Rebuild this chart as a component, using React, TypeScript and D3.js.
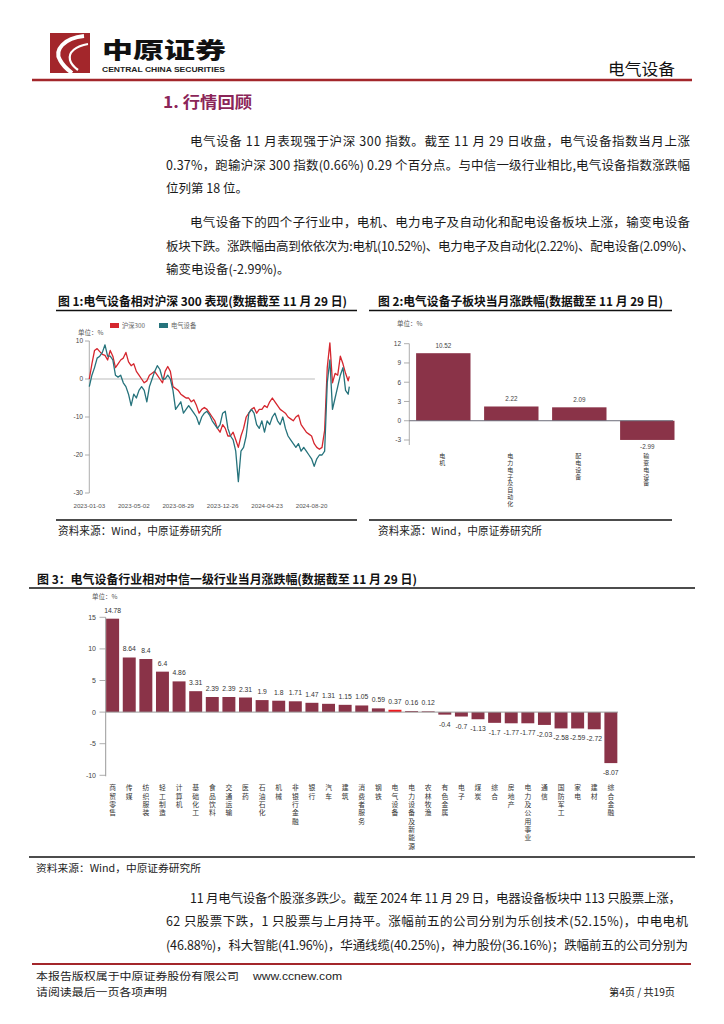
import React, { useEffect, useRef } from 'react';
import * as d3 from 'd3';

const CJK = "'Noto Sans CJK SC', 'Noto Sans', sans-serif";
const LAT = "'Liberation Sans', Arial, sans-serif";

// 图1：电气设备 vs 沪深300（周度采样，2023-01-03 起，末点 2024-11-29）
const perfStart = '2023-01-03';
const perfEnd = '2024-11-29';
const perfAxisEnd = '2024-08-29';
const hs300 = [
  0, 4, 7.5, 8, 7.2, 6.5, 6.2, 5, 7.5, 6,
  3, 4, 5, 5.5, 7, 4.5, 3.5, 4, 2, 1,
  0, -1, -0.5, 1, 1.5, 2, 1, 0, -1, 2,
  3.3, 2, -2, -2.5, -3, -4, -4.5, -5, -5, -6,
  -5.5, -7, -9, -8, -7.5, -8, -9, -10, -11, -13,
  -14, -12, -13, -15, -15, -14, -16, -18, -15, -13,
  -10, -9, -8, -7.5, -9, -8, -8, -7, -7.5, -6,
  -5, -6, -7, -8, -8.5, -9, -10, -10.5, -11, -10,
  -9.5, -12, -13, -14, -14.5, -15, -17, -18, -18.5, -18,
  -13.5, 3, 9.5, -1, 1.5, 1, 6, 4, 1.5, -0.5,
  0.7,
];
const elecEquip = [
  -2, 1, 3, 5.5, 6, 7, 9, 6, 6, 5,
  1, 0.5, 1, -1, -2, -4, -7, -4, -5, -3,
  -2, -3, -6, -2, 0, 2, 3.5, 2.5, 0, 0,
  1, 0, -3, -8, -7, -6, -9, -8, -7, -8,
  -9, -10, -12, -10, -9, -8.5, -9.5, -11, -12, -13,
  -12, -9, -8.5, -13, -15, -16, -19, -27, -19, -18,
  -15, -9, -8, -9, -12, -13, -11, -14, -11, -12,
  -10, -9, -11, -12, -10, -13, -15, -16, -17, -18,
  -17, -19, -18, -19, -20, -21, -23, -21, -20, -20,
  -19, -1, 5, -8, -5, -2, 1, 3, -3, -4,
  -2,
];
const perfTickDates = ['2023-01-03', '2023-05-02', '2023-08-29', '2023-12-26', '2024-04-23', '2024-08-20'];
const perfYTicks = [10, 0, -10, -20, -30];
const perfLegend = ['沪深300', '电气设备'];
const perfColors = ['#D5262E', '#26737C'];

// 图2：子板块
const subSectors = ['电机', '电力电子及自动化', '配电设备', '输变电设备'];
const subReturns = [10.52, 2.22, 2.09, -2.99];
const subYTicks = [12, 9, 6, 3, 0, -3];

// 图3：中信一级行业
const industries = [
  '商贸零售', '传媒', '纺织服装', '轻工制造', '计算机', '基础化工', '食品饮料', '交通运输', '医药',
  '石油石化', '机械', '非银行金融', '银行', '汽车', '建筑', '消费者服务', '钢铁', '电气设备',
  '电力设备及新能源', '农林牧渔', '有色金属', '电子', '煤炭', '综合', '房地产', '电力及公用事业',
  '通信', '国防军工', '家电', '建材', '综合金融',
];
const industryReturns = [
  14.78, 8.64, 8.4, 6.4, 4.86, 3.31, 2.39, 2.39, 2.31, 1.9, 1.8, 1.71, 1.47, 1.31, 1.15, 1.05, 0.59,
  0.37, 0.16, 0.12, -0.4, -0.7, -1.13, -1.7, -1.77, -1.77, -2.03, -2.58, -2.59, -2.72, -8.07,
];
const industryYTicks = [15, 10, 5, 0, -5, -10];
const highlight = '电气设备';

const BAR = '#8A3348';
const RED = '#A3262B';

type TOpt = { size: number; fill?: string; anchor?: string; weight?: string | number; family?: string; len?: number };

function addText(g: any, x: number, y: number, s: string, o: TOpt) {
  const t = g.append('text')
    .attr('x', x)
    .attr('y', y)
    .attr('font-size', o.size)
    .attr('font-family', o.family || CJK)
    .attr('fill', o.fill || '#1a1a1a')
    .attr('text-anchor', o.anchor || 'start');
  if (o.weight) t.attr('font-weight', o.weight);
  if (o.len) t.attr('textLength', o.len).attr('lengthAdjust', 'spacingAndGlyphs');
  t.text(s);
  return t;
}

// 竖排文字（一个 text 元素，竖排书写）
function vText(g: any, x: number, y0: number, s: string, gap: number, size: number) {
  g.append('text')
    .attr('x', x)
    .attr('y', y0)
    .attr('font-size', size)
    .attr('font-family', CJK)
    .attr('fill', '#333')
    .style('writing-mode', 'vertical-rl')
    .style('letter-spacing', `${gap - size}px`)
    .text(s);
}

export default function App() {
  const svgRef = useRef<SVGSVGElement>(null);

  useEffect(() => {
    const svg = d3.select(svgRef.current);
    svg.selectAll('*').remove();
    svg.append('rect').attr('width', 724).attr('height', 1024).attr('fill', '#fff');

    // 页眉
    const head = svg.append('g');
    head.append('rect').attr('x', 50).attr('y', 33).attr('width', 40).attr('height', 40).attr('fill', RED);
    head.append('path').attr('d', 'M84 36 C64 38 54 50 60 60 C63 66 68 70 72 73')
      .attr('fill', 'none').attr('stroke', '#fff').attr('stroke-width', 4);
    head.append('path').attr('d', 'M88 44 C76 46 68 52 70 60 C71 64 74 67 78 70')
      .attr('fill', 'none').attr('stroke', '#fff').attr('stroke-width', 2.2);
    addText(head, 102, 58, '中原证券', { size: 22, weight: 900, fill: '#111', len: 124 });
    addText(head, 102, 71.5, 'CENTRAL CHINA SECURITIES', { size: 7, weight: 'bold', family: LAT, fill: '#222', len: 123 });
    addText(head, 608, 75, '电气设备', { size: 16, fill: '#111', len: 67 });
    head.append('line').attr('x1', 32).attr('x2', 692).attr('y1', 80).attr('y2', 80)
      .attr('stroke', RED).attr('stroke-width', 2.5);

    // 正文
    const body = svg.append('g');
    addText(body, 163, 108, '1. 行情回顾', { size: 16, weight: 'bold', fill: '#8B2558', len: 89 });
    const para = [
      { x: 190, y: 145.5, s: '电气设备 11 月表现强于沪深 300 指数。截至 11 月 29 日收盘，电气设备指数当月上涨', end: 690 },
      { x: 166, y: 169.5, s: '0.37%，跑输沪深 300 指数(0.66%) 0.29 个百分点。与中信一级行业相比,电气设备指数涨跌幅', end: 690 },
      { x: 166, y: 193, s: '位列第 18 位。', end: 0 },
      { x: 190, y: 226.5, s: '电气设备下的四个子行业中，电机、电力电子及自动化和配电设备板块上涨，输变电设备', end: 690 },
      { x: 166, y: 250.5, s: '板块下跌。涨跌幅由高到依依次为:电机(10.52%)、电力电子及自动化(2.22%)、配电设备(2.09%)、', end: 694 },
      { x: 166, y: 274, s: '输变电设备(-2.99%)。', end: 0 },
      { x: 190, y: 902.5, s: '11 月电气设备个股涨多跌少。截至 2024 年 11 月 29 日，电器设备板块中 113 只股票上涨，', end: 681 },
      { x: 166, y: 926, s: '62 只股票下跌，1 只股票与上月持平。涨幅前五的公司分别为乐创技术(52.15%)，中电电机', end: 688 },
      { x: 166, y: 949.5, s: '(46.88%)，科大智能(41.96%)，华通线缆(40.25%)，神力股份(36.16%)；跌幅前五的公司分别为', end: 688 },
    ];
    para.forEach(p => {
      const t = addText(body, p.x, p.y, p.s, { size: 12.5, fill: '#1a1a1a' });
      if (p.end) t.attr('textLength', p.end - p.x).attr('lengthAdjust', 'spacing');
    });

    // 图框标题与来源
    const frames = [
      { x1: 56, x2: 357, tx: 58, ty: 305.5, lineY: 310.5, botY: 520, title: '图 1:电气设备相对沪深 300 表现(数据截至 11 月 29 日)', len: 289, sx: 58, sy: 534.5, slen: 164, ss: 11 },
      { x1: 369, x2: 672, tx: 378, ty: 305.5, lineY: 310.5, botY: 520, title: '图 2:电气设备子板块当月涨跌幅(数据截至 11 月 29 日)', len: 285, sx: 378, sy: 534.5, slen: 164, ss: 11 },
      { x1: 29, x2: 695, tx: 37, ty: 583.5, lineY: 588, botY: 857, title: '图 3：电气设备行业相对中信一级行业当月涨跌幅(数据截至 11 月 29 日)', len: 380, sx: 36, sy: 872, slen: 165, ss: 10 },
    ];
    frames.forEach(f => {
      addText(svg, f.tx, f.ty, f.title, { size: 12, weight: 'bold', fill: '#111', len: f.len });
      svg.append('line').attr('x1', f.x1).attr('x2', f.x2).attr('y1', f.lineY).attr('y2', f.lineY)
        .attr('stroke', '#111').attr('stroke-width', 1.6);
      svg.append('line').attr('x1', f.x1).attr('x2', f.x2).attr('y1', f.botY).attr('y2', f.botY)
        .attr('stroke', '#111').attr('stroke-width', 1.6);
      addText(svg, f.sx, f.sy, '资料来源：Wind，中原证券研究所', { size: f.ss, fill: '#222', len: f.slen });
    });

    // ---------- 图1 ----------
    const g1 = svg.append('g');
    const parse = d3.timeParse('%Y-%m-%d');
    const start = parse(perfStart) as Date;
    const dates = d3.range(hs300.length - 1).map(i => d3.timeDay.offset(start, 7 * i)).concat([parse(perfEnd) as Date]);
    const x1 = d3.scaleTime().domain([start, parse(perfEnd) as Date]).range([89.3, 349.3]);
    const y1 = d3.scaleLinear().domain([-30, 10]).range([493, 341]);

    g1.append('line').attr('x1', x1.range()[0]).attr('x2', x1(parse(perfAxisEnd) as Date))
      .attr('y1', y1(0)).attr('y2', y1(0)).attr('stroke', '#aaa').attr('stroke-width', 0.8);
    g1.append('line').attr('x1', 89.3).attr('x2', 89.3).attr('y1', y1(10)).attr('y2', y1(-30))
      .attr('stroke', '#999').attr('stroke-width', 0.8);
    perfYTicks.forEach(v => {
      g1.append('line').attr('x1', 85).attr('x2', 89.3).attr('y1', y1(v)).attr('y2', y1(v))
        .attr('stroke', '#999').attr('stroke-width', 0.8);
      addText(g1, 83, y1(v) + 2.3, String(v), { size: 6.5, anchor: 'end', family: LAT, fill: '#444' });
    });
    perfTickDates.forEach(d => {
      addText(g1, x1(parse(d) as Date), 507.5, d, { size: 6.2, anchor: 'middle', family: LAT, fill: '#555' });
    });
    addText(g1, 78, 335, '单位：%', { size: 6.5, fill: '#555' });

    [hs300, elecEquip].forEach((series, si) => {
      const line = d3.line<number>()
        .x((_, i) => x1(dates[i]))
        .y(v => y1(v));
      g1.append('path').attr('d', line(series) as string).attr('fill', 'none')
        .attr('stroke', perfColors[si]).attr('stroke-width', 1.3).attr('stroke-linejoin', 'round');
      const lx = si === 0 ? 110 : 159;
      g1.append('rect').attr('x', lx).attr('y', 323).attr('width', 9).attr('height', 5).attr('fill', perfColors[si]);
      addText(g1, lx + 12, 327.8, perfLegend[si], { size: 6.3, fill: '#666' });
    });

    // ---------- 图2 ----------
    const g2 = svg.append('g');
    const x2 = d3.scaleBand<string>().domain(subSectors).range([409.3, 681.3]).paddingInner(0.2).paddingOuter(0.1);
    const y2 = d3.scaleLinear().domain([-3, 12]).range([440, 343.7]);
    addText(g2, 397, 326, '单位：%', { size: 6.5, fill: '#555' });
    g2.append('line').attr('x1', 409.3).attr('x2', 409.3).attr('y1', y2(12)).attr('y2', 445)
      .attr('stroke', '#999').attr('stroke-width', 0.8);
    subYTicks.forEach(v => {
      g2.append('line').attr('x1', 404).attr('x2', 409.3).attr('y1', y2(v)).attr('y2', y2(v))
        .attr('stroke', '#999').attr('stroke-width', 0.8);
      addText(g2, 401, y2(v) + 2.3, String(v), { size: 6.5, anchor: 'end', family: LAT, fill: '#444' });
    });
    subSectors.forEach((c, i) => {
      const v = subReturns[i];
      const bx = x2(c) as number;
      g2.append('rect').attr('x', bx).attr('width', x2.bandwidth())
        .attr('y', y2(Math.max(0, v))).attr('height', Math.abs(y2(v) - y2(0))).attr('fill', BAR);
      const cx = bx + x2.bandwidth() / 2;
      addText(g2, cx, v >= 0 ? y2(v) - 5.5 : y2(v) + 9.5, v.toFixed(2), { size: 6.3, anchor: 'middle', family: LAT, fill: '#444' });
      vText(g2, cx - 1, 453, c, 6.8, 6);
    });
    g2.append('line').attr('x1', 409.3).attr('x2', 673).attr('y1', y2(0)).attr('y2', y2(0))
      .attr('stroke', '#6a6a78').attr('stroke-width', 1);

    // ---------- 图3 ----------
    const g3 = svg.append('g');
    const x3 = d3.scaleBand<string>().domain(industries).range([104.5, 619]).paddingInner(0.22).paddingOuter(0.1);
    const y3 = d3.scaleLinear().domain([-10, 15]).range([775.3, 617.3]);
    addText(g3, 92, 598.5, '单位：%', { size: 6.5, fill: '#555' });
    g3.append('line').attr('x1', 105.7).attr('x2', 105.7).attr('y1', y3(15)).attr('y2', y3(-10) + 1)
      .attr('stroke', '#999').attr('stroke-width', 1);
    industryYTicks.forEach(v => {
      g3.append('line').attr('x1', 99.5).attr('x2', 105.7).attr('y1', y3(v)).attr('y2', y3(v))
        .attr('stroke', '#999').attr('stroke-width', 0.8);
      addText(g3, 96, y3(v) + 2.5, String(v), { size: 7, anchor: 'end', family: LAT, fill: '#444' });
    });
    industries.forEach((c, i) => {
      const v = industryReturns[i];
      const bx = x3(c) as number;
      g3.append('rect').attr('x', bx).attr('width', x3.bandwidth())
        .attr('y', y3(Math.max(0, v))).attr('height', Math.abs(y3(v) - y3(0)))
        .attr('fill', c === highlight ? '#F0191E' : BAR);
      const cx = bx + x3.bandwidth() / 2;
      addText(g3, cx, v >= 0 ? y3(v) - 6 : y3(v) + 12, String(v), { size: 6.8, anchor: 'middle', family: LAT, fill: '#333' });
      vText(g3, cx, 784.5, c, 8.3, 6.8);
    });
    g3.append('line').attr('x1', 105.7).attr('x2', 618).attr('y1', y3(0)).attr('y2', y3(0))
      .attr('stroke', '#999').attr('stroke-width', 1);

    // 页脚
    const foot = svg.append('g');
    foot.append('line').attr('x1', 32).attr('x2', 691).attr('y1', 964).attr('y2', 964)
      .attr('stroke', RED).attr('stroke-width', 2);
    addText(foot, 36, 979.5, '本报告版权属于中原证券股份有限公司', { size: 10.5, fill: '#222', len: 203 });
    addText(foot, 253, 979.5, 'www.ccnew.com', { size: 11, fill: '#222', family: LAT, len: 89 });
    addText(foot, 36, 995.5, '请阅读最后一页各项声明', { size: 10.5, fill: '#222', len: 131 });
    addText(foot, 609, 995.5, '第4页 / 共19页', { size: 10.5, fill: '#222', len: 66 });
  }, []);

  return (
    <svg
      ref={svgRef}
      width={724}
      height={1024}
      style={{ position: 'absolute', left: 0, top: 0, display: 'block' }}
    />
  );
}
